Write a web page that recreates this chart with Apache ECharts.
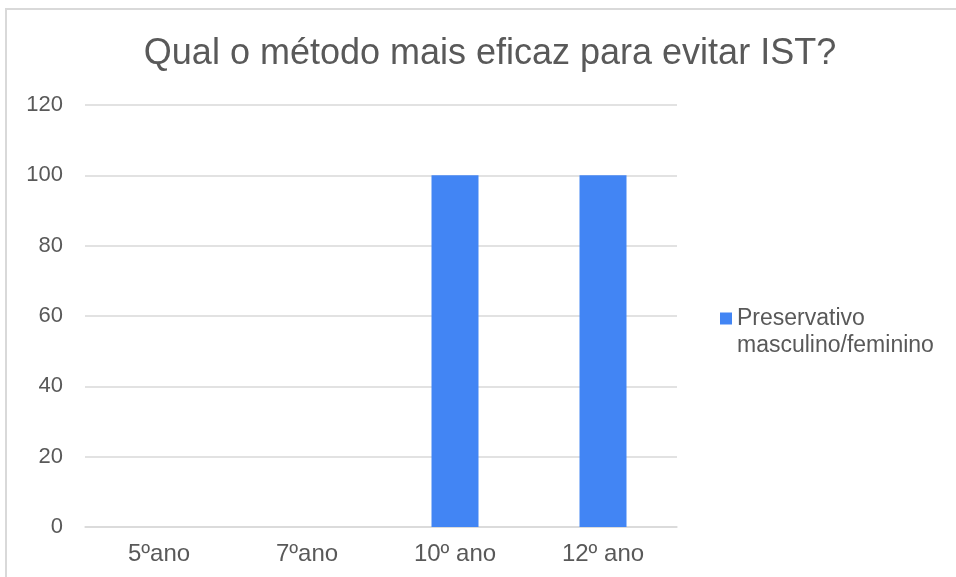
<!DOCTYPE html>
<html>
<head>
<meta charset="utf-8">
<script src="https://cdn.jsdelivr.net/npm/echarts@6/dist/echarts.min.js"></script>
<style>
  html, body { margin: 0; padding: 0; background: #fff; }
  #frame { position: absolute; left: 5px; top: 8px; width: 960px; height: 580px; border: 2px solid #d9d9d9; box-sizing: border-box; }
  #chart { position: absolute; left: 0; top: 0; width: 956px; height: 577px; }
</style>
</head>
<body>
<div id="frame"></div>
<div id="chart"></div>
<script>
// dados
const anos = ["5ºano", "7ºano", "10º ano", "12º ano"];
const preservativo = [0, 0, 100, 100];
const serieNome = "Preservativo masculino/feminino";

const cinza = "#595959";
const fonte = "Liberation Sans, Arial, sans-serif";

const chart = echarts.init(document.getElementById("chart"));
chart.setOption({
  animation: false,
  textStyle: { fontFamily: fonte },
  title: {
    text: "Qual o método mais eficaz para evitar IST?",
    left: 485,
    textAlign: "center",
    top: 31,
    textStyle: { color: cinza, fontSize: 36, fontWeight: "normal" }
  },
  legend: {
    left: 715,
    top: 302,
    icon: "rect",
    itemWidth: 12,
    itemHeight: 12,
    itemGap: 5,
    // segunda linha do nome vai no graphic abaixo
    formatter: () => "Preservativo",
    textStyle: { color: cinza, fontSize: 23 }
  },
  graphic: [{
    type: "text",
    left: 737,
    top: 334,
    style: { text: "masculino/feminino", fill: cinza, fontSize: 23, fontFamily: fonte }
  }],
  grid: { left: 85, right: 279, top: 105, bottom: 50 },
  xAxis: {
    type: "category",
    data: anos,
    axisLine: { lineStyle: { color: "#d9d9d9", width: 1.5 } },
    axisTick: { show: false },
    axisLabel: { color: cinza, fontSize: 24, margin: 15 }
  },
  yAxis: {
    type: "value",
    min: 0,
    max: 120,
    interval: 20,
    axisLine: { show: false },
    axisTick: { show: false },
    splitLine: { lineStyle: { color: "#d9d9d9", width: 1.5 } },
    axisLabel: { color: cinza, fontSize: 22, margin: 22 }
  },
  series: [{
    name: serieNome,
    type: "bar",
    data: preservativo,
    barWidth: 47,
    itemStyle: { color: "#4285f4" }
  }]
});
</script>
</body>
</html>
